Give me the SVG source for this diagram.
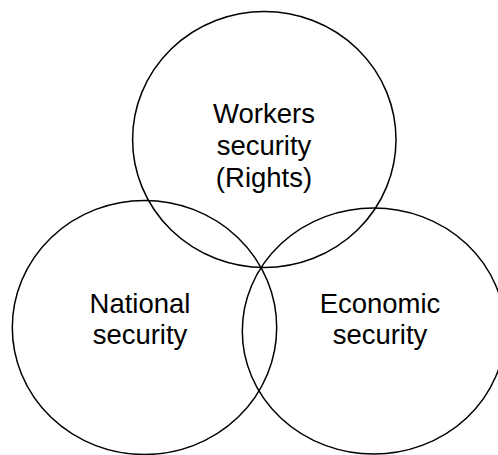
<svg xmlns="http://www.w3.org/2000/svg" width="498" height="455" viewBox="0 0 498 455">
  <style>
    .ring { fill: none; stroke: #000; stroke-width: 1.5; }
    .label { font-family: "Liberation Sans", Arial, sans-serif; font-size: 27.5px; fill: #000; text-anchor: middle; }
  </style>
  <rect width="498" height="455" fill="#fff"/>
  <g id="workers">
    <ellipse class="ring" cx="264.3" cy="139.5" rx="131.7" ry="128"/>
    <text class="label" x="264" y="123">Workers</text>
    <text class="label" x="264" y="155">security</text>
    <text class="label" x="264" y="187">(Rights)</text>
  </g>
  <g id="national">
    <ellipse class="ring" cx="144.5" cy="327.5" rx="132.2" ry="127"/>
    <text class="label" x="140" y="313">National</text>
    <text class="label" x="140" y="344">security</text>
  </g>
  <g id="economic">
    <ellipse class="ring" cx="373.7" cy="331" rx="131.4" ry="123"/>
    <text class="label" x="380" y="313">Economic</text>
    <text class="label" x="380" y="344">security</text>
  </g>
  <g id="connectors"/>
</svg>
